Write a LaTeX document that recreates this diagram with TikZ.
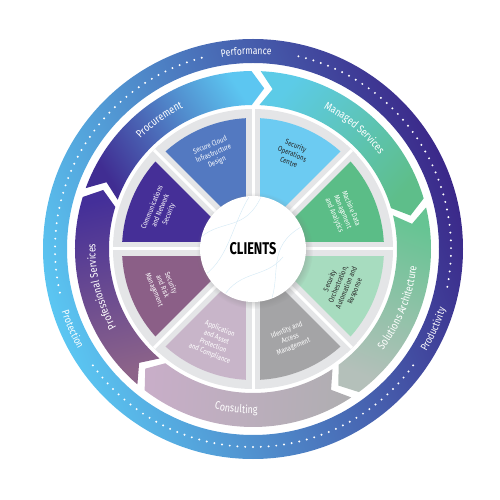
\documentclass[tikz,border=0pt]{standalone}
\usepackage{fontspec}
\newfontfamily\wheelfont[FakeStretch=0.82]{Fira Sans}
\newfontfamily\hubfont[FakeStretch=0.75]{Fira Sans}
\usetikzlibrary{decorations.text,shadows}

\definecolor{ringlight}{HTML}{5BC6F2}
\definecolor{ringdark}{HTML}{3B2889}
\definecolor{wheelgrey}{HTML}{E4E5E7}
\definecolor{socblue}{HTML}{6CCBF2}
\definecolor{cloudblue}{HTML}{5379C1}
\definecolor{commspurple}{HTML}{452F97}
\definecolor{riskmauve}{HTML}{8B5F87}
\definecolor{appmauve}{HTML}{C8B5C9}
\definecolor{iamgrey}{HTML}{A4A4A6}
\definecolor{soargreen}{HTML}{A7DCBF}
\definecolor{mdmgreen}{HTML}{5BBD87}
\definecolor{contourblue}{HTML}{D3E9F5}
\definecolor{proctail}{HTML}{402D92}
\definecolor{prochead}{HTML}{5CC6F1}
\definecolor{mantail}{HTML}{5CCBE7}
\definecolor{manhead}{HTML}{5EBE8A}
\definecolor{soltail}{HTML}{66C493}
\definecolor{solhead}{HTML}{B4C0BA}
\definecolor{contail}{HTML}{AFAEB1}
\definecolor{conhead}{HTML}{C8AEC8}
\definecolor{protail}{HTML}{8D6489}
\definecolor{prohead}{HTML}{442F99}

\tikzstyle{segtext} = [text=white, align=center, font=\wheelfont\fontsize{7.4}{9}\selectfont]
\tikzstyle{darktext} = [segtext, text=black!85]
\tikzstyle{hub} = [circle, fill=white, minimum size=106pt, inner sep=0pt, circular drop shadow={shadow xshift=1.5pt, shadow yshift=-1.5pt, opacity=0.35}]
\tikzstyle{contour} = [contourblue, line width=0.4pt]

% chevron arc: start angle, end angle, tail colour, head colour
\newcommand{\ringarrow}[4]{%
  \pgfmathsetmacro{\tipcorner}{#2+4.5}%
  \pgfmathsetmacro{\notchpt}{#1-4.5}%
  \pgfmathsetmacro{\shadeangle}{(#1+#2)/2-180}%
  \shade[bottom color=#3, top color=#4, shading angle=\shadeangle]
    (#1:178) arc[start angle=#1, end angle=\tipcorner, radius=178]
    -- (#2:161) -- (\tipcorner:144) arc[start angle=\tipcorner, end angle=#1, radius=144]
    -- (\notchpt:161) -- cycle;
}
% text on an arc: start angle, end angle, radius, size, text
\newcommand{\ringlabel}[5]{%
  \path[decorate, decoration={text along path, text align=center, text color=white,
    text={|\wheelfont\fontsize{#4}{#4}\selectfont|#5}}]
    (#1:#3) arc[start angle=#1, end angle=#2, radius=#3];
}
\newcommand{\wedgefill}[2]{%
  \fill[#2] (0,0) -- (#1:131) arc[start angle=#1, end angle=#1+45, radius=131] -- cycle;
}

\begin{document}
\begin{tikzpicture}[x=1pt, y=1pt]
  \useasboundingbox (-253,-251) rectangle (247,249);

  % outer ring
  \shade[bottom color=ringlight, top color=ringdark, shading angle=-70, even odd rule]
    (0,0) circle[radius=210] (0,0) circle[radius=186];
  \foreach \from/\n in {105/39, 216/48, 349/39} {
    \foreach \i in {0,...,\n} {
      \fill[white] (\from+\i*2.25:198) circle[radius=1.1];
    }
  }
  \ringlabel{117}{67}{194.5}{10.5}{Performance}
  \ringlabel{-49}{1}{201.5}{10.5}{Productivity}
  \ringlabel{179}{229}{201.5}{10.5}{Protection}

  % arrows
  \ringarrow{160}{86}{proctail}{prochead}
  \ringarrow{87.5}{12}{mantail}{manhead}
  \ringarrow{13.5}{-58}{soltail}{solhead}
  \ringarrow{-56.5}{-132}{contail}{conhead}
  \ringarrow{229.5}{158.5}{protail}{prohead}
  \ringlabel{156}{96}{157.5}{11}{Procurement}
  \ringlabel{85}{15}{157.5}{11}{Managed Services}
  \ringlabel{-57}{13}{164.5}{11}{Solutions Architecture}
  \ringlabel{234}{294}{164.5}{11}{Consulting}
  \ringlabel{229}{159}{157.5}{11}{Professional Services}

  % wheel
  \fill[wheelgrey] (0,0) circle[radius=140];
  \wedgefill{0}{mdmgreen}
  \wedgefill{45}{socblue}
  \wedgefill{90}{cloudblue}
  \wedgefill{135}{commspurple}
  \wedgefill{180}{riskmauve}
  \wedgefill{225}{appmauve}
  \wedgefill{270}{iamgrey}
  \wedgefill{315}{soargreen}
  \foreach \a in {0,45,90,135} {
    \draw[wheelgrey, line width=14] (\a:140) -- (\a+180:140);
    \draw[white, line width=3] (\a:140) -- (\a+180:140);
  }

  \node (soc) [darktext, rotate=-22.5] at (67.5:103) {Security\\Operations\\Centre};
  \node (cloud) [segtext, rotate=22.5] at (112.5:103) {Secure Cloud\\Infrastructure\\Design};
  \node (comms) [segtext, rotate=67.5] at (157.5:100) {Communications\\and Network\\Security};
  \node (risk) [segtext, rotate=-67.5] at (202.5:98) {Security\\and Risk\\Management};
  \node (appsec) [segtext, rotate=-22.5] at (247.5:100) {Application\\and Asset\\Protection\\and Compliance};
  \node (iam) [segtext, rotate=22.5] at (292.5:97) {Identity and\\Access\\Management};
  \node (soar) [darktext, rotate=67.5] at (337.5:97) {Security\\Orchestration,\\Automation and\\Response};
  \node (mdm) [segtext, rotate=-67.5] at (22.5:97) {Machine Data\\Management\\and Analytics};

  % hub
  \node (hub) [hub] at (0,0) {};
  \begin{scope}
    \clip (hub.center) circle[radius=52];
    \draw[contour] (-52,12) .. controls (-30,30) and (-8,18) .. (8,52);
    \draw[contour] (-48,-26) .. controls (-24,-8) and (-20,26) .. (-4,52);
    \draw[contour] (-30,-48) .. controls (-12,-20) and (12,-30) .. (30,-8);
    \draw[contour] (18,-52) .. controls (28,-24) and (14,2) .. (48,22);
  \end{scope}
  \node (clients) at (hub.center) {\hubfont\bfseries\fontsize{17}{18}\selectfont CLIENTS};
\end{tikzpicture}
\end{document}
